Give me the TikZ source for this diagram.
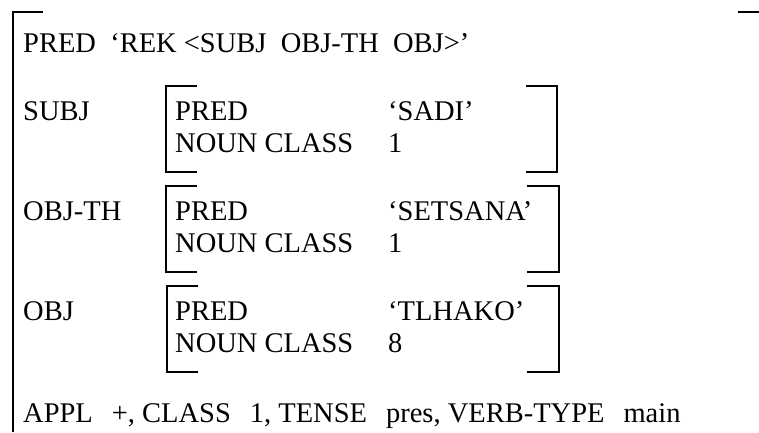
\documentclass[tikz,border=0pt]{standalone}
\usepackage{fontspec}
\setmainfont{Liberation Serif}
\usepackage{tikz}

\newcommand{\gap}{\hspace{19pt}}

\tikzset{
    fs/.style = {anchor = base west, inner sep = 0pt, font = \fontsize{28.5}{32}\selectfont},
    brk/.style = {line width = 2pt}
}

\begin{document}
\begin{tikzpicture}[x = 1pt, y = -1pt]
            \useasboundingbox (0, 0) rectangle (759, 432);

            % outer f-structure
            \draw[brk] (43, 12) -- (12.5, 12) -- (12.5, 432);
            \draw[brk] (738, 12) -- (759, 12);
            \node[fs] (pred) at (23, 52) {PRED~~‘REK <SUBJ~~OBJ-TH~~OBJ>’};

            % SUBJ
            \node[fs] (subj) at (23, 120) {SUBJ};
            \draw[brk] (197, 86) -- (166, 86) -- (166, 172) -- (197, 172);
            \draw[brk] (526, 86) -- (557, 86) -- (557, 172) -- (526, 172);
            \node[fs] (subjpred) at (175, 120) {PRED};
            \node[fs] (subjnc) at (175, 152) {NOUN CLASS};
            \node[fs] (subjval) at (388, 120) {‘SADI’};
            \node[fs] (subjnum) at (388, 152) {1};

            % OBJ-TH
            \node[fs] (objth) at (23, 220) {OBJ-TH};
            \draw[brk] (197, 186) -- (166, 186) -- (166, 272) -- (197, 272);
            \draw[brk] (527, 186) -- (559, 186) -- (559, 272) -- (527, 272);
            \node[fs] (objthpred) at (175, 220) {PRED};
            \node[fs] (objthnc) at (175, 252) {NOUN CLASS};
            \node[fs] (objthval) at (388, 220) {‘SETSANA’};
            \node[fs] (objthnum) at (388, 252) {1};

            % OBJ
            \node[fs] (obj) at (23, 320) {OBJ};
            \draw[brk] (198, 286) -- (167, 286) -- (167, 372) -- (198, 372);
            \draw[brk] (527, 286) -- (559, 286) -- (559, 372) -- (527, 372);
            \node[fs] (objpred) at (175, 320) {PRED};
            \node[fs] (objnc) at (175, 352) {NOUN CLASS};
            \node[fs] (objval) at (388, 320) {‘TLHAKO’};
            \node[fs] (objnum) at (388, 352) {8};

            \node[fs] (appl) at (23, 422) {APPL\gap+, CLASS\gap1, TENSE\gap pres, VERB-TYPE\gap main};
\end{tikzpicture}
\end{document}
